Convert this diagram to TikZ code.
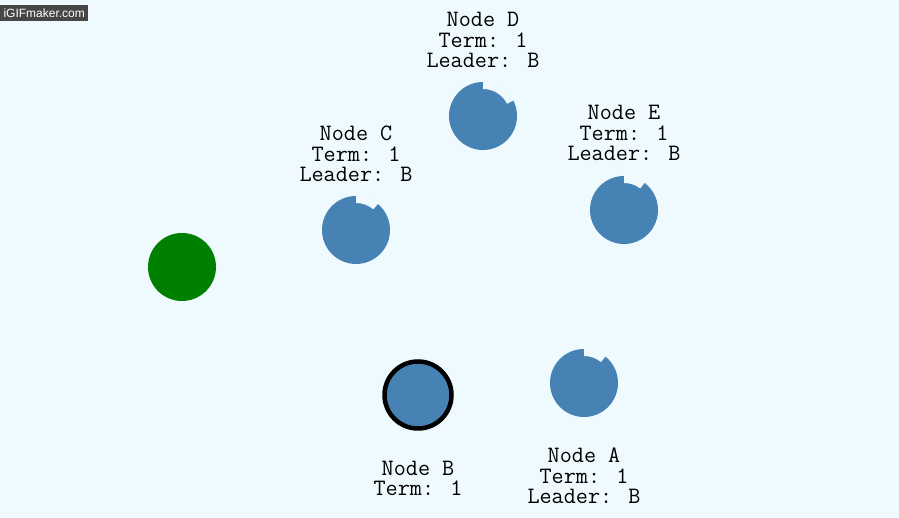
\documentclass[tikz,border=0pt]{standalone}
\usepackage{fontspec}
\setsansfont{Liberation Sans}
\usepackage{tikz}
\definecolor{bgcol}{RGB}{238,250,253}
\definecolor{steel}{RGB}{70,130,180}
\definecolor{leaf}{RGB}{0,128,0}
\definecolor{mark}{RGB}{70,70,70}

\begin{document}
\begin{tikzpicture}
[x=1pt,y=1pt,
 srv/.style={circle,fill=steel,minimum size=68pt,inner sep=0pt},
 info/.style={align=center,font=\ttfamily\fontsize{23.5}{20.5}\selectfont}]
\fill[bgcol] (0,0) rectangle (899,518);
\useasboundingbox (0,0) rectangle (899,518);
\node[fill=mark,text=white,font=\sffamily\fontsize{12}{12}\selectfont,minimum width=88pt,minimum height=16pt,inner sep=0pt,anchor=north west] (wm) at (0,513) {iGIFmaker.com};
\node[srv] (vA) at (584,135) {};
\node[srv,draw=black,line width=4.5pt,minimum size=67pt] (vB) at (418,123) {};
\node[srv] (vC) at (356,288) {};
\node[srv] (vD) at (483,402) {};
\node[srv] (vE) at (624,308) {};
\node[srv,fill=leaf] (vG) at (182,251) {};
\foreach \v/\a in {vA/51,vC/50,vD/27,vE/53}
\fill[bgcol] ([shift={(\a:35)}]\v.center) arc[start angle=\a,end angle=90,radius=35] -- ++(0,-8) arc[start angle=90,end angle=\a,radius=27] -- cycle;
\node[info] (tA) at (584,42) {Node A\\Term: 1\\Leader: B};
\node[info] (tB) at (418,39.5) {Node B\\Term: 1};
\node[info] (tC) at (356,364) {Node C\\Term: 1\\Leader: B};
\node[info] (tD) at (483,478) {Node D\\Term: 1\\Leader: B};
\node[info] (tE) at (624,385) {Node E\\Term: 1\\Leader: B};
\end{tikzpicture}
\end{document}
